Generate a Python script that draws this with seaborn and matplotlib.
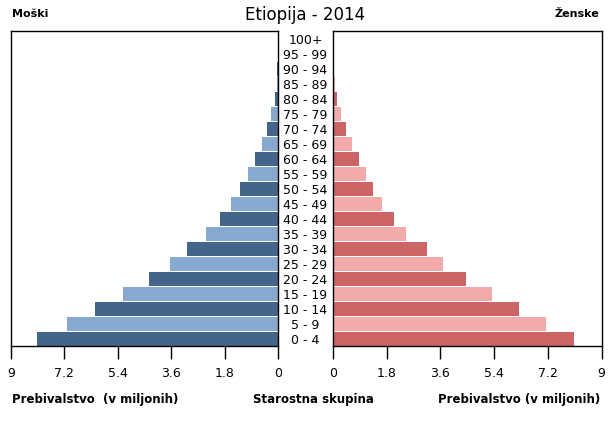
import matplotlib
matplotlib.use("Agg")
import matplotlib.pyplot as plt
import matplotlib.transforms as mtransforms
import seaborn as sns
import pandas as pd

ages = ["100+", "95 - 99", "90 - 94", "85 - 89", "80 - 84", "75 - 79", "70 - 74",
        "65 - 69", "60 - 64", "55 - 59", "50 - 54", "45 - 49", "40 - 44", "35 - 39",
        "30 - 34", "25 - 29", "20 - 24", "15 - 19", "10 - 14", "5 - 9", "0 - 4"]
male = [0.003, 0.008, 0.018, 0.04, 0.10, 0.235, 0.38,
        0.55, 0.77, 1.01, 1.29, 1.59, 1.96, 2.43,
        3.07, 3.64, 4.36, 5.22, 6.17, 7.11, 8.12]
female = [0.003, 0.01, 0.03, 0.065, 0.14, 0.27, 0.45,
          0.64, 0.88, 1.09, 1.35, 1.65, 2.03, 2.46,
          3.14, 3.70, 4.45, 5.34, 6.23, 7.15, 8.09]
ticks = [0, 1.8, 3.6, 5.4, 7.2, 9]
tick_labels = ["0", "1.8", "3.6", "5.4", "7.2", "9"]

male_dark, male_light = "#44658a", "#87a9cf"
fem_dark, fem_light = "#cc6666", "#f2aaaa"
n = len(ages)
male_pal = {a: (male_dark if (n - 1 - i) % 2 == 0 else male_light) for i, a in enumerate(ages)}
fem_pal = {a: (fem_dark if (n - 1 - i) % 2 == 0 else fem_light) for i, a in enumerate(ages)}

df = pd.DataFrame({"age": ages, "male": male, "female": female})

sns.set_style("white")
plt.rcParams["font.family"] = ["DejaVu Sans"]
plt.rcParams["text.color"] = "black"
plt.rcParams["xtick.color"] = "black"

W, H = 610, 425
fig = plt.figure(figsize=(W / 100, H / 100), dpi=100)
bottom = (H - 346) / H
height = (346 - 30.5) / H
axL = fig.add_axes([11 / W, bottom, 267 / W, height])
axR = fig.add_axes([333 / W, bottom, 268.5 / W, height])

sns.barplot(data=df, x="male", y="age", hue="age", palette=male_pal, order=ages,
            legend=False, ax=axL, width=0.89, saturation=1, linewidth=0)
sns.barplot(data=df, x="female", y="age", hue="age", palette=fem_pal, order=ages,
            legend=False, ax=axR, width=0.89, saturation=1, linewidth=0)

for ax, lim in ((axL, (9, 0)), (axR, (0, 9))):
    ax.set_xlim(*lim)
    ax.set_xticks(ticks)
    ax.set_xticklabels(tick_labels, fontsize=9)
    ax.set_yticks([])
    ax.set_xlabel("")
    ax.set_ylabel("")
    for s in ax.spines.values():
        s.set_visible(True)
        s.set_color("black")
        s.set_linewidth(1.0)
    ax.tick_params(axis="x", direction="out", length=9, width=1, color="black",
                   bottom=True, pad=6, labelcolor="black")
    ax.set_ylim(n - 1 + 0.47, -0.57)

trans = mtransforms.blended_transform_factory(fig.transFigure, axL.transData)
for i, a in enumerate(ages):
    fig.text(305.5 / W, i + 0.1, a, transform=trans, ha="center", va="center",
             fontsize=9, color="black")

fig.text(305 / W, 1 - 15 / H, "Etiopija - 2014", ha="center", va="center", fontsize=12)
fig.text(12 / W, 1 - 14 / H, "Moški", ha="left", va="center", fontsize=8, fontweight="bold")
fig.text(599 / W, 1 - 14 / H, "Ženske", ha="right", va="center", fontsize=8, fontweight="bold")
fig.text(12 / W, 1 - 399 / H, "Prebivalstvo  (v miljonih)", ha="left", va="center",
         fontsize=8.5, fontweight="bold")
fig.text(313 / W, 1 - 399 / H, "Starostna skupina", ha="center", va="center",
         fontsize=8.5, fontweight="bold")
fig.text(600 / W, 1 - 400 / H, "Prebivalstvo (v miljonih)", ha="right", va="center",
         fontsize=8.5, fontweight="bold")

fig.savefig("out.png", dpi=100)
